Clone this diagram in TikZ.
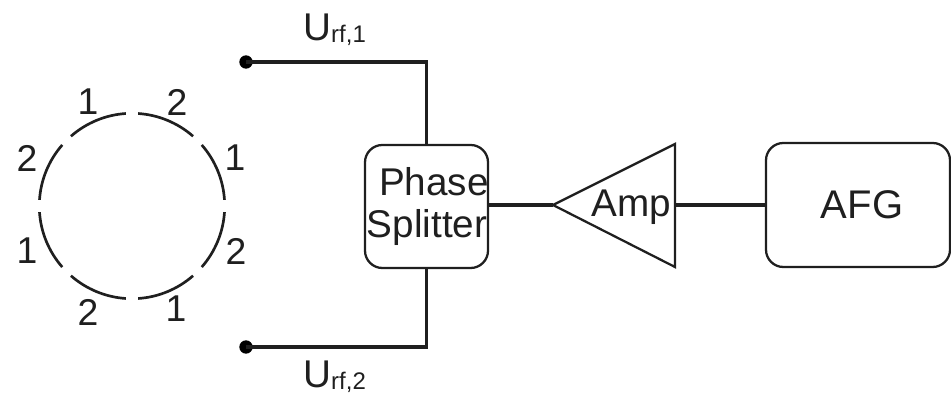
\documentclass[tikz,border=0pt]{standalone}
\usepackage{fontspec}
\setmainfont{Liberation Sans}
\definecolor{ink}{gray}{0.12}
\tikzset{
  x=0.75pt,y=-0.75pt,
  txt/.style={inner sep=0pt,text=ink,font=\fontsize{29}{33}\selectfont},
  digit/.style={txt,font=\fontsize{28}{32}\selectfont},
  blockbox/.style={draw=ink,line width=1.7pt,rounded corners=13pt,inner sep=0pt},
  wire/.style={draw=ink,line width=2.3pt},
  coil/.style={draw=ink,line width=2pt},
  terminal/.style={circle,fill=black,inner sep=0pt,minimum size=10pt},
}
\begin{document}
\begin{tikzpicture}
\useasboundingbox (0,0) rectangle (951,395);
% ring
\foreach \a in {0,45,...,315}{
  \draw[coil] ({132+92.7*cos(\a+3.8)},{206-92.7*sin(\a+3.8)}) arc[start angle=-\a-3.8,delta angle=-37.4,radius=92.7];
}
\node[digit] (d1) at (88,102) {1};
\node[digit] (d2) at (177,102) {2};
\node[digit] (d3) at (235,158) {1};
\node[digit] (d4) at (236,251) {2};
\node[digit] (d5) at (176,309) {1};
\node[digit] (d6) at (88,312) {2};
\node[digit] (d7) at (27,251) {1};
\node[digit] (d8) at (27,158) {2};
% blocks
\node[blockbox,minimum width=123*0.75pt,minimum height=123*0.75pt] (split) at (426.5,206.5) {};
\node[txt] (phase) at (434,182) {Phase};
\node[txt] (splitter) at (427,228) {Splitter};
\node[blockbox,minimum width=184*0.75pt,minimum height=124*0.75pt] (afg) at (858,205) {};
\node[txt,font=\fontsize{30}{34}\selectfont] (afgt) at (862,205) {AFG};
% amplifier
\coordinate (tip) at (553,205);
\coordinate (top) at (675,144);
\coordinate (bot) at (675,267);
\coordinate (base) at (675,205);
\draw[draw=ink,line width=1.7pt,line join=miter] (tip) -- (top) -- (bot) -- cycle;
\node[txt] (amp) at (631,207) {Amp};
% terminals
\node[terminal] (t1) at (246,62) {};
\node[terminal] (t2) at (246,347) {};
\node[txt,anchor=base west] (u1) at (303,41) {U\raisebox{-1.5pt}{\fontsize{18}{20}\selectfont rf,1}};
\node[txt,anchor=base west] (u2) at (303,388) {U\raisebox{-1.5pt}{\fontsize{18}{20}\selectfont rf,2}};
% wires
\draw[wire] (t1.center) -| (split.north);
\draw[wire] (t2.center) -| (split.south);
\draw[wire] (split.east |- tip) -- (tip);
\draw[wire] (base) -- (afg.west);
\end{tikzpicture}
\end{document}
